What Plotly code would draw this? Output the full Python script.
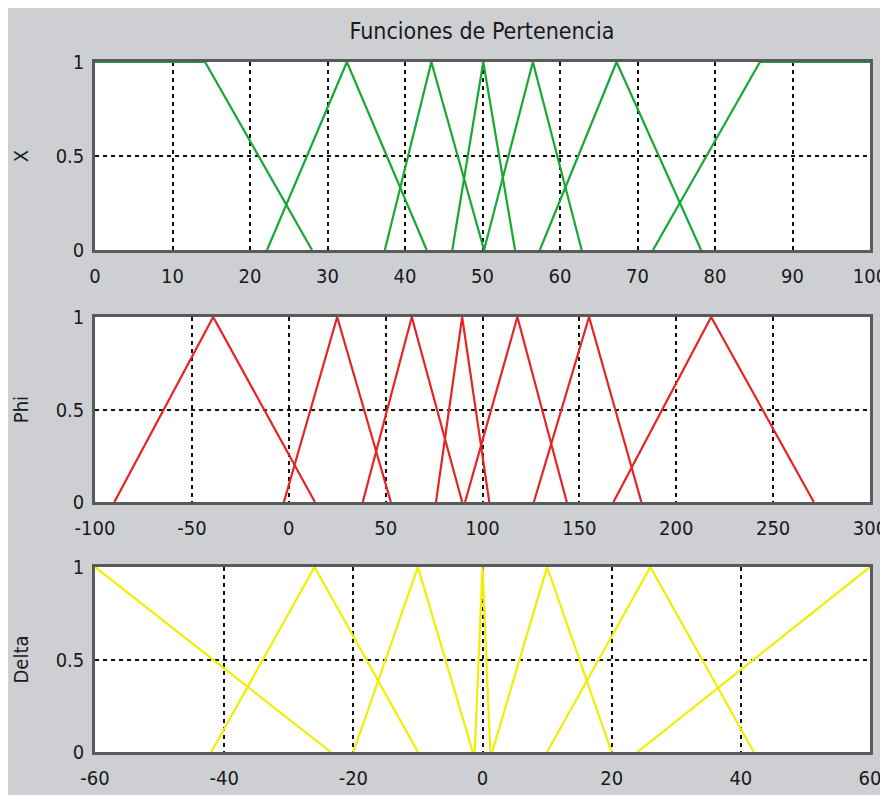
import plotly.graph_objects as go

# ---------------- data ----------------
title_text = "Funciones de Pertenencia"

# X universe 0..100, green membership functions (x points, y points)
x_range = [0, 100]
x_ticks = [0, 10, 20, 30, 40, 50, 60, 70, 80, 90, 100]
x_mf_x = [
    [0, 14.2, 28.0],
    [22.2, 32.5, 42.8],
    [37.4, 43.4, 50.2],
    [46.1, 50.1, 54.2],
    [50.2, 56.5, 62.8],
    [57.4, 67.3, 78.2],
    [72.0, 85.8, 100],
]
x_mf_y = [
    [1, 1, 0],
    [0, 1, 0],
    [0, 1, 0],
    [0, 1, 0],
    [0, 1, 0],
    [0, 1, 0],
    [0, 1, 1],
]

# Phi universe -100..300, red membership functions
phi_range = [-100, 300]
phi_ticks = [-100, -50, 0, 50, 100, 150, 200, 250, 300]
phi_mf_x = [
    [-90.0, -39.0, 13.5],
    [-2.5, 25.0, 52.7],
    [38.2, 63.5, 89.5],
    [76.0, 89.5, 103.5],
    [91.0, 118.0, 143.5],
    [126.5, 155.0, 182.0],
    [167.6, 218.0, 271.0],
]
phi_mf_y = [[0, 1, 0]] * 7

# Delta universe -60..60, yellow membership functions
delta_range = [-60, 60]
delta_ticks = [-60, -40, -20, 0, 20, 40, 60]
delta_mf_x = [
    [-60.0, -23.5],
    [-42.0, -26.0, -10.0],
    [-20.0, -10.0, -1.5],
    [-1.2, 0.0, 1.2],
    [1.5, 10.0, 20.0],
    [10.0, 26.0, 42.0],
    [24.0, 60.0],
]
delta_mf_y = [
    [1, 0],
    [0, 1, 0],
    [0, 1, 0],
    [0, 1, 0],
    [0, 1, 0],
    [0, 1, 0],
    [0, 1],
]

y_ticks = [0, 0.5, 1]
y_ticktext = ["0", "0.5", "1"]
y_titles = ["X", "Phi", "Delta"]

# ---------------- styling ----------------
OFF = 8                      # page body margin
W, H = 880, 787
ML, MR, MT, MB = 95 - OFF, 18, 62 - OFF, 0
MB = H - (752 - OFF)
PW, PH = W - ML - MR, H - MT - MB

def py2paper(py):            # py in page pixels
    return (H - MB - (py - OFF)) / PH

def px2paper(px):            # px in page pixels
    return (px - OFF - ML) / PW

FONT = "DejaVu Sans Condensed, Liberation Sans Narrow, Liberation Sans, Arial, sans-serif"
BG = "#cecfd3"
AXC = "#5a5a5a"

panels = [
    dict(rng=x_range, ticks=x_ticks, xs=x_mf_x, ys=x_mf_y, color="#17a834",
         top=62, bottom=250),
    dict(rng=phi_range, ticks=phi_ticks, xs=phi_mf_x, ys=phi_mf_y, color="#e82323",
         top=317, bottom=502),
    dict(rng=delta_range, ticks=delta_ticks, xs=delta_mf_x, ys=delta_mf_y, color="#f2ee00",
         top=567, bottom=752),
]

fig = go.Figure()
layout = dict(
    width=W, height=H,
    margin=dict(l=ML, r=MR, t=MT, b=MB, autoexpand=False),
    paper_bgcolor=BG, plot_bgcolor="white",
    showlegend=False,
    font=dict(family=FONT, size=20, color="#1a1a1a"),
    title=dict(text=title_text, x=px2paper(482), xref="paper", xanchor="center",
               y=1 - (31 - OFF) / H, yanchor="middle", font=dict(size=23, family=FONT)),
)

for i, p in enumerate(panels):
    n = "" if i == 0 else str(i + 1)
    for xs, ys in zip(p["xs"], p["ys"]):
        fig.add_trace(go.Scatter(
            x=xs, y=ys, mode="lines", xaxis="x" + n, yaxis="y" + n,
            line=dict(color=p["color"], width=2.2), cliponaxis=False,
            hoverinfo="skip"))
    axcommon = dict(showline=True, linecolor=AXC, linewidth=2.5, mirror=True,
                    showgrid=True, gridcolor="#111111", gridwidth=1.6,
                    griddash="4px,4px", zeroline=False, ticks="",
                    layer="below traces", automargin=False)
    layout["xaxis" + n] = dict(
        axcommon, domain=[0, 1], anchor="y" + n, range=p["rng"],
        tickmode="array", tickvals=p["ticks"],
        ticktext=[str(t) for t in p["ticks"]], ticklabelstandoff=6,
        tickfont=dict(size=20))
    layout["yaxis" + n] = dict(
        axcommon, domain=[py2paper(p["bottom"]), py2paper(p["top"])],
        anchor="x" + n, range=[0, 1], tickmode="array", tickvals=y_ticks,
        ticktext=y_ticktext, ticklabelstandoff=4, tickfont=dict(size=20),
        title=dict(text=y_titles[i], standoff=22, font=dict(size=20)))

fig.update_layout(**layout)
fig.write_html("out.html")
